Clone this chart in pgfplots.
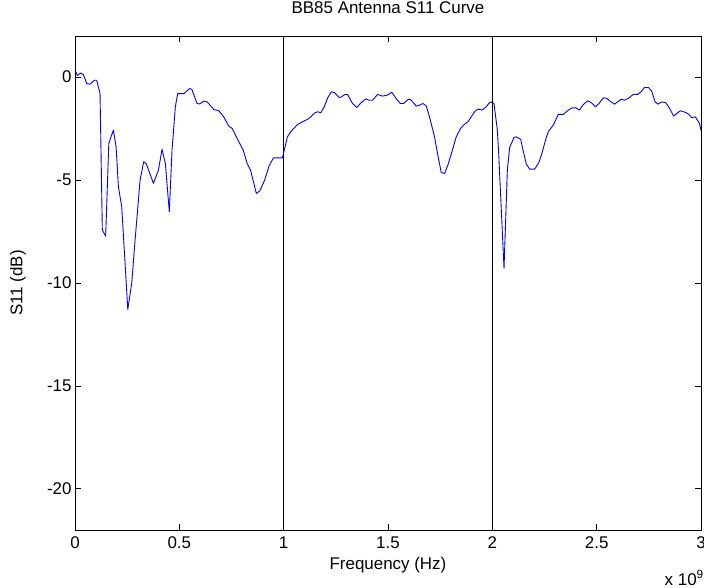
\documentclass[border=0pt]{standalone}
\usepackage{fontspec}
\setmainfont{Liberation Sans}
\usepackage{pgfplots}
\pgfplotsset{compat=1.18}
\begin{document}
\begin{tikzpicture}
\begin{axis}[
 scale only axis, width=626bp, height=494bp,
 xmin=0, xmax=3, ymin=-22, ymax=2,
 xtick={0,0.5,1,1.5,2,2.5,3}, xticklabels={0,0.5,1,1.5,2,2.5,3},
 ytick={-20,-15,-10,-5,0}, yticklabels={-20,-15,-10,-5,0},
 tick label style={font=\fontsize{17}{17}\selectfont, black},
 x tick label style={yshift=-3bp},
 label style={font=\fontsize{17}{17}\selectfont},
 title style={font=\fontsize{17}{17}\selectfont, at={(axis description cs:0.5,1)}, anchor=base, yshift=17bp},
 title={BB85 Antenna S11 Curve},
 xlabel={Frequency (Hz)}, ylabel={S11 (dB)},
 xlabel style={at={(axis description cs:0.5,0)}, anchor=center, yshift=-35bp},
 ylabel style={at={(axis description cs:-0.091,0.5)}, anchor=center},
 axis line style={line width=0.75bp, black},
 major tick length=6bp,
 tick style={black, line width=0.75bp},
]
\addplot[black, line width=0.75bp] coordinates {(1,-22) (1,2)};
\addplot[black, line width=0.75bp] coordinates {(2,-22) (2,2)};
\addplot[blue, line width=0.9bp, line join=round] coordinates {
(0,0.37) (0.011,0.08) (0.027,0.2) (0.04,0.13) (0.056,-0.31) (0.072,-0.34)
(0.093,-0.15) (0.104,-0.15) (0.12,-0.8) (0.131,-7.43) (0.147,-7.72)
(0.162,-3.22) (0.184,-2.57) (0.197,-3.38) (0.208,-5.32) (0.224,-6.3)
(0.253,-11.28) (0.272,-10.0) (0.288,-7.9) (0.312,-5.0) (0.329,-4.11)
(0.341,-4.19) (0.376,-5.16) (0.4,-4.51) (0.417,-3.5) (0.433,-4.19)
(0.452,-6.54) (0.465,-3.54) (0.481,-1.44) (0.492,-0.8) (0.521,-0.8)
(0.55,-0.55) (0.56,-0.6) (0.585,-1.28) (0.598,-1.3) (0.617,-1.17)
(0.633,-1.2) (0.665,-1.57) (0.689,-1.63) (0.713,-1.93) (0.737,-2.38)
(0.753,-2.49) (0.777,-2.98) (0.806,-3.54) (0.825,-4.19) (0.841,-4.51)
(0.869,-5.65) (0.886,-5.52) (0.909,-5.0) (0.93,-4.32) (0.951,-3.92)
(0.994,-3.92) (1.018,-2.9) (1.034,-2.65) (1.066,-2.3) (1.09,-2.17)
(1.114,-2.05) (1.13,-1.93) (1.146,-1.76) (1.162,-1.68) (1.178,-1.73)
(1.194,-1.44) (1.213,-0.96) (1.229,-0.71) (1.245,-0.76) (1.266,-0.99)
(1.277,-0.96) (1.293,-0.84) (1.306,-0.84) (1.33,-1.28) (1.351,-1.47)
(1.37,-1.25) (1.394,-1.05) (1.41,-1.12) (1.426,-1.12) (1.45,-0.84)
(1.474,-0.92) (1.498,-0.87) (1.518,-0.73) (1.538,-1.03) (1.559,-1.28)
(1.575,-1.28) (1.598,-1.07) (1.61,-1.1) (1.635,-1.41) (1.651,-1.36)
(1.667,-1.28) (1.683,-1.39) (1.699,-1.93) (1.723,-2.9) (1.739,-3.79)
(1.755,-4.63) (1.771,-4.68) (1.787,-4.27) (1.811,-3.46) (1.827,-2.9)
(1.848,-2.49) (1.867,-2.28) (1.883,-2.17) (1.899,-1.93) (1.918,-1.64)
(1.934,-1.55) (1.95,-1.6) (1.971,-1.44) (1.985,-1.25) (1.995,-1.2)
(2.008,-1.28) (2.024,-2.57) (2.03,-3.6) (2.056,-9.29) (2.072,-4.51)
(2.083,-3.42) (2.104,-2.93) (2.115,-2.9) (2.136,-3.02) (2.147,-3.54)
(2.163,-4.22) (2.179,-4.47) (2.203,-4.47) (2.222,-4.16) (2.235,-3.79)
(2.255,-3.06) (2.268,-2.65) (2.292,-2.33) (2.316,-1.81) (2.34,-1.81)
(2.364,-1.6) (2.383,-1.49) (2.4,-1.49) (2.417,-1.6) (2.436,-1.33)
(2.457,-1.15) (2.476,-1.25) (2.495,-1.44) (2.511,-1.28) (2.532,-1.0)
(2.548,-1.03) (2.569,-1.2) (2.585,-1.31) (2.601,-1.2) (2.617,-1.07)
(2.633,-1.12) (2.652,-1.03) (2.676,-0.83) (2.697,-0.84) (2.713,-0.71)
(2.729,-0.5) (2.748,-0.5) (2.764,-0.68) (2.78,-1.2) (2.793,-1.31)
(2.813,-1.2) (2.832,-1.25) (2.848,-1.49) (2.869,-1.89) (2.885,-1.76)
(2.901,-1.63) (2.925,-1.71) (2.941,-1.8) (2.954,-1.96) (2.973,-1.93)
(2.993,-2.25) (3.0,-2.6)
};
\end{axis}
\node[anchor=base east, font=\fontsize{17}{17}\selectfont, inner sep=0pt] at ([shift={(3bp,-55bp)}]current axis.south east) {x 10\textsuperscript{9}};
\pgfresetboundingbox
\path[use as bounding box] ([shift={(-75bp,-58bp)}]current axis.south west) rectangle ([shift={(3bp,36bp)}]current axis.north east);
\end{tikzpicture}
\end{document}
